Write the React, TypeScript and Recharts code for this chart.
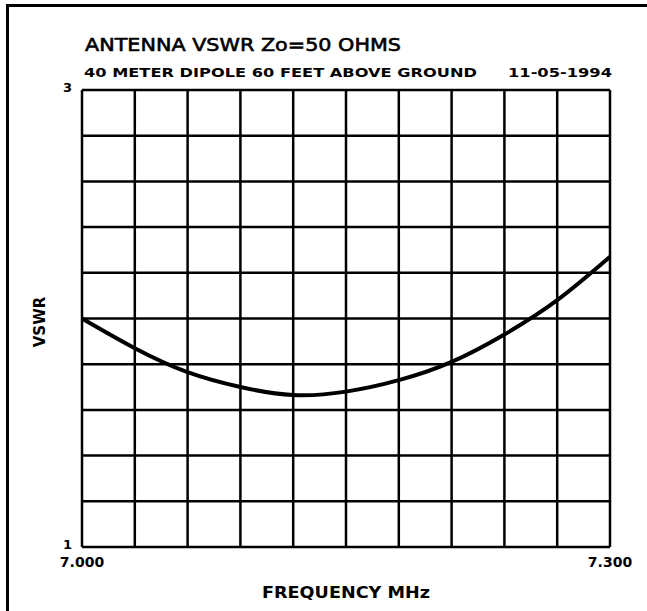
import { CartesianGrid, Line, LineChart, XAxis, YAxis } from "recharts";

// sweep points, MHz
const frequencies = [7.0, 7.03, 7.06, 7.09, 7.12, 7.15, 7.18, 7.21, 7.24, 7.27, 7.3];
// measured VSWR at each frequency
const vswr = [2.0, 1.87, 1.765, 1.7, 1.665, 1.68, 1.73, 1.81, 1.93, 2.08, 2.27];

const xTicks = [7.0, 7.3];
const yTicks = [1, 3];
const gridX = [7.0, 7.03, 7.06, 7.09, 7.12, 7.15, 7.18, 7.21, 7.24, 7.27, 7.3];
const gridY = [1, 1.2, 1.4, 1.6, 1.8, 2.0, 2.2, 2.4, 2.6, 2.8, 3];

const data = frequencies.map((f, i) => ({ f, vswr: vswr[i] }));

const font = "'DejaVu Sans', sans-serif";

export default function App() {
  return (
    <div style={{ position: "absolute", left: 0, top: 0, width: 647, height: 611, background: "#fff" }}>
      {/* frame */}
      <div
        style={{
          position: "absolute",
          left: 6,
          top: 4,
          width: 641,
          height: 607,
          borderTop: "3px solid #000",
          borderLeft: "3px solid #000",
          boxSizing: "border-box",
        }}
      />
      <LineChart
        width={647}
        height={611}
        data={data}
        margin={{ top: 90, right: 37, left: 0, bottom: 0 }}
        style={{ position: "absolute", left: 0, top: 0 }}
      >
        <CartesianGrid
          stroke="#000"
          strokeWidth={2.5}
          horizontalValues={gridY}
          verticalValues={gridX}
        />
        <XAxis
          dataKey="f"
          type="number"
          domain={[7.0, 7.3]}
          ticks={xTicks}
          tickFormatter={(v: number) => v.toFixed(3)}
          height={64}
          axisLine={false}
          tickLine={false}
          tickSize={0}
          tickMargin={10}
          tick={{ fill: "#000", fontSize: 14, fontWeight: 700, fontFamily: font }}
        />
        <YAxis
          type="number"
          domain={[1, 3]}
          ticks={yTicks}
          width={82}
          axisLine={false}
          tickLine={false}
          tickSize={0}
          tickMargin={10}
          tick={{ fill: "#000", fontSize: 13, fontWeight: 700, fontFamily: font, dy: -3 }}
        />
        <Line
          type="natural"
          dataKey="vswr"
          stroke="#000"
          strokeWidth={4}
          dot={false}
          isAnimationActive={false}
        />
      </LineChart>
      <svg width={647} height={611} style={{ position: "absolute", left: 0, top: 0, pointerEvents: "none" }}>
        <g fontFamily={font} fill="#000">
          <text
            x={85}
            y={51}
            fontSize={18}
            stroke="#000"
            strokeWidth={0.6}
            textLength={316}
            lengthAdjust="spacingAndGlyphs"
          >
            ANTENNA VSWR  Zo=50 OHMS
          </text>
          <text x={84} y={77} fontSize={13} fontWeight={700} textLength={393} lengthAdjust="spacingAndGlyphs">
            40 METER DIPOLE 60 FEET ABOVE GROUND
          </text>
          <text x={508} y={77} fontSize={13} fontWeight={700} textLength={104} lengthAdjust="spacingAndGlyphs">
            11-05-1994
          </text>
          <text
            x={346}
            y={598}
            fontSize={15}
            fontWeight={700}
            textAnchor="middle"
            textLength={168}
            lengthAdjust="spacingAndGlyphs"
          >
            FREQUENCY MHz
          </text>
          <text
            x={40}
            y={322}
            fontSize={15}
            fontWeight={700}
            textAnchor="middle"
            dominantBaseline="central"
            transform="rotate(-90 40 322)"
          >
            VSWR
          </text>
        </g>
      </svg>
    </div>
  );
}
